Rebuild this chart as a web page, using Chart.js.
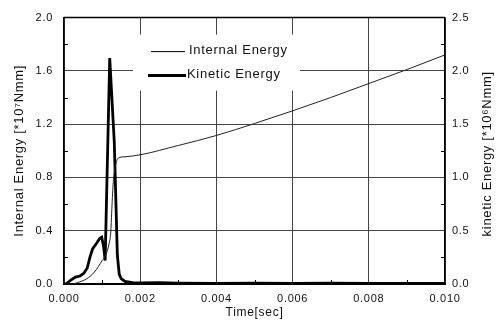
<!DOCTYPE html>
<html>
<head>
<meta charset="utf-8">
<script src="https://cdn.jsdelivr.net/npm/chart.js@4.4.1/dist/chart.umd.min.js"></script>
<style>
  html, body { margin: 0; padding: 0; background: #fff; }
</style>
</head>
<body>
<canvas id="chart" width="500" height="330"></canvas>
<script>
// time [sec] and internal energy [*10^7 Nmm], left axis
const internalTime = [0, 0.0002, 0.0004, 0.0006, 0.0008, 0.001, 0.0011, 0.00118, 0.00123, 0.00125, 0.00129,
  0.00133, 0.00136, 0.0014, 0.00145, 0.0016, 0.002, 0.003, 0.004, 0.005, 0.006, 0.007, 0.008, 0.009, 0.01];
const internalEnergy = [0, 0, 0.015, 0.04, 0.09, 0.175, 0.22, 0.3, 0.4, 0.53, 0.75,
  0.86, 0.9, 0.935, 0.95, 0.955, 0.97, 1.04, 1.115, 1.205, 1.3, 1.4, 1.505, 1.61, 1.72];

// time [sec] and kinetic energy [*10^6 Nmm], right axis
const kineticTime = [0, 0.00005, 0.00018, 0.0003, 0.00042, 0.00052, 0.00061, 0.00068, 0.00075, 0.00085,
  0.00094, 0.00099, 0.00104, 0.00108, 0.0012, 0.00132, 0.0014, 0.00145, 0.0015, 0.0016, 0.0018,
  0.002, 0.0025, 0.003, 0.004, 0.005, 0.006, 0.007, 0.008, 0.009, 0.01];
const kineticEnergy = [0, 0, 0.037, 0.065, 0.075, 0.1, 0.15, 0.25, 0.33, 0.38,
  0.43, 0.44, 0.35, 0.22, 2.12, 1.33, 0.27, 0.09, 0.05, 0.025, 0.012,
  0.01, 0.012, 0.008, 0.006, 0.008, 0.006, 0.008, 0.006, 0.006, 0.006];

const xTicks = [0, 0.002, 0.004, 0.006, 0.008, 0.01];
const xMinor = [0.001, 0.003, 0.005, 0.007, 0.009];
const leftTicks = [0, 0.4, 0.8, 1.2, 1.6, 2.0];
const leftMinor = [0.2, 0.6, 1.0, 1.4, 1.8];
const rightTicks = [0, 0.5, 1.0, 1.5, 2.0, 2.5];
const rightMinor = [0.25, 0.75, 1.25, 1.75, 2.25];

const FONT = "Arial, 'Liberation Sans', sans-serif";
const INK = "#111";

const toPoints = (xs, ys) => xs.map((x, i) => ({ x: x, y: ys[i] }));

const spacing = {
  id: "spacing",
  beforeUpdate(chart) { chart.ctx.letterSpacing = "0.7px"; },
  beforeDraw(chart) { chart.ctx.letterSpacing = "0.7px"; }
};

const extras = {
  id: "extras",
  afterDraw(chart) {
    const ctx = chart.ctx;
    const a = chart.chartArea;
    const sx = chart.scales.x, sy = chart.scales.y, sy1 = chart.scales.y1;
    ctx.save();
    // top frame line
    ctx.strokeStyle = "#000";
    ctx.lineWidth = 1.5;
    ctx.beginPath();
    ctx.moveTo(a.left, a.top);
    ctx.lineTo(a.right, a.top);
    ctx.stroke();

    // inward minor ticks
    ctx.lineWidth = 1;
    ctx.beginPath();
    xMinor.forEach(v => {
      const px = Math.round(sx.getPixelForValue(v)) + 0.5;
      ctx.moveTo(px, a.bottom); ctx.lineTo(px, a.bottom - 4);
    });
    leftMinor.forEach(v => {
      const py = Math.round(sy.getPixelForValue(v)) + 0.5;
      ctx.moveTo(a.left, py); ctx.lineTo(a.left + 4, py);
    });
    rightMinor.forEach(v => {
      const py = Math.round(sy1.getPixelForValue(v)) + 0.5;
      ctx.moveTo(a.right, py); ctx.lineTo(a.right - 4, py);
    });
    ctx.stroke();

    // right axis title, reading bottom to top
    ctx.fillStyle = INK;
    ctx.font = "13px " + FONT;
    ctx.textAlign = "center";
    ctx.textBaseline = "middle";
    ctx.translate(487, (a.top + a.bottom) / 2 + 3);
    ctx.rotate(-Math.PI / 2);
    ctx.fillText("kinetic Energy [*10\u2076Nmm]", 0, 0);
    ctx.restore();

    // legend box
    ctx.save();
    ctx.fillStyle = "#fff";
    ctx.fillRect(a.left + 69, a.top + 17, 167, 56);
    ctx.strokeStyle = "#000";
    ctx.lineWidth = 1;
    ctx.beginPath();
    ctx.moveTo(a.left + 87, a.top + 34); ctx.lineTo(a.left + 121, a.top + 34);
    ctx.stroke();
    ctx.lineWidth = 3;
    ctx.beginPath();
    ctx.moveTo(a.left + 84, a.top + 58); ctx.lineTo(a.left + 122, a.top + 58);
    ctx.stroke();
    ctx.fillStyle = INK;
    ctx.font = "13px " + FONT;
    ctx.textAlign = "left";
    ctx.textBaseline = "middle";
    ctx.fillText(chart.data.datasets[0].label, a.left + 125, a.top + 33);
    ctx.fillText(chart.data.datasets[1].label, a.left + 123, a.top + 57);
    ctx.restore();
  }
};

new Chart(document.getElementById("chart"), {
  type: "line",
  data: {
    datasets: [
      {
        label: "Internal Energy",
        data: toPoints(internalTime, internalEnergy),
        yAxisID: "y",
        borderColor: "#222",
        borderWidth: 1,
        pointRadius: 0,
        cubicInterpolationMode: "monotone"
      },
      {
        label: "Kinetic Energy",
        data: toPoints(kineticTime, kineticEnergy),
        yAxisID: "y1",
        borderColor: "#000",
        borderWidth: 2.8,
        pointRadius: 0,
        tension: 0
      }
    ]
  },
  options: {
    responsive: false,
    devicePixelRatio: 1,
    animation: false,
    events: [],
    layout: { padding: { top: 13, left: 0, right: 0, bottom: 0 } },
    plugins: { legend: { display: false }, tooltip: { enabled: false } },
    scales: {
      x: {
        type: "linear",
        min: 0,
        max: 0.01,
        afterFit(s) { s.height = 46; },
        afterBuildTicks(s) { s.ticks = xTicks.map(v => ({ value: v })); },
        ticks: { callback: v => v.toFixed(3), padding: 8, maxRotation: 0, color: INK, font: { family: FONT, size: 11 } },
        grid: { color: "#444", lineWidth: 1, drawTicks: false },
        border: { color: "#000", width: 2 },
        title: { display: true, text: "Time[sec]", color: INK, font: { family: FONT, size: 12 }, padding: { top: 0, bottom: 10 } }
      },
      y: {
        position: "left",
        min: 0,
        max: 2,
        afterFit(s) { s.width = 64; },
        afterBuildTicks(s) { s.ticks = leftTicks.map(v => ({ value: v })); },
        ticks: { callback: v => v.toFixed(1), padding: 11, color: INK, font: { family: FONT, size: 11 } },
        grid: { color: "#444", lineWidth: 1, drawTicks: false },
        border: { color: "#000", width: 1.5 },
        title: { display: true, text: "Internal Energy [*10\u2077Nmm]", color: INK, font: { family: FONT, size: 13 }, padding: { top: 12, bottom: 0 } }
      },
      y1: {
        position: "right",
        min: 0,
        max: 2.5,
        afterFit(s) { s.width = 55; },
        afterBuildTicks(s) { s.ticks = rightTicks.map(v => ({ value: v })); },
        ticks: { callback: v => v.toFixed(1), padding: 7, color: INK, font: { family: FONT, size: 11 } },
        grid: { display: false, drawTicks: false },
        border: { color: "#000", width: 1.5 }
      }
    }
  },
  plugins: [spacing, extras]
});
</script>
</body>
</html>
